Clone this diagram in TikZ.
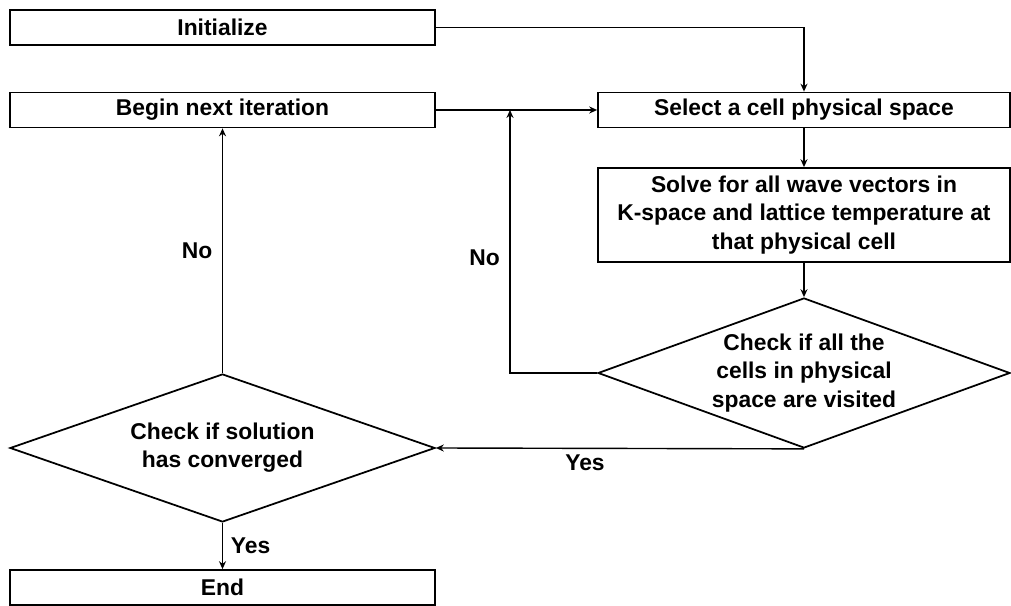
\documentclass[tikz,border=0pt]{standalone}
\usepackage{fontspec}
\setmainfont{Liberation Sans}
\usetikzlibrary{shapes.geometric, arrows.meta, positioning, calc}

\begin{document}
\begin{tikzpicture}[
    >={Stealth[length=4.5pt, width=4pt]},
    font=\bfseries\fontsize{13}{16}\selectfont,
    block/.style={draw, line width=1pt, minimum height=0.7cm, align=center, inner sep=2pt},
    decision/.style={draw, diamond, line width=1pt, align=center, inner sep=0pt},
    flow/.style={->, line width=0.8pt}
]

\useasboundingbox (0, 0) rectangle (20.22, 12.12);

\node (Init) at (4.45, 11.57) [block, minimum width=8.5cm] {Initialize};
\node (Begin) at (4.45, 9.92) [block, minimum width=8.5cm] {Begin next iteration};
\node (Select) at (16.08, 9.92) [block, minimum width=8.24cm] {Select a cell physical space};
\node (Solve) at (16.08, 7.82) [block, minimum width=8.24cm, minimum height=1.88cm] {Solve for all wave vectors in\\K-space and lattice temperature at\\that physical cell};

\node (Visited) at (16.08, 4.66) [decision, aspect=2.75, minimum width=8.24cm, minimum height=3cm] {Check if all the\\cells in physical\\space are visited};
\node (Converged) at (4.45, 3.16) [decision, aspect=2.87, minimum width=8.5cm, minimum height=2.96cm] {Check if solution\\has converged};

\node (End) at (4.45, 0.37) [block, minimum width=8.5cm] {End};

\coordinate (Merge) at (10.2, 9.92);

\draw[flow] (Init.east) -| (Select.north);
\draw[flow] (Begin.east) -- (Select.west);
\draw[flow] (Select.south) -- (Solve.north);
\draw[flow] (Solve.south) -- (Visited.north);
\draw[flow] (Visited.west) -| node[pos=0.72, left=2pt] {No} (Merge);
\draw[flow] (Visited.south) -- node[pos=0.595, below] {Yes} (Converged.east);
\draw[flow] (Converged.north) -- node[left=2pt] {No} (Begin.south);
\draw[flow] (Converged.south) -- node[right=1pt] {Yes} (End.north);

\end{tikzpicture}
\end{document}
